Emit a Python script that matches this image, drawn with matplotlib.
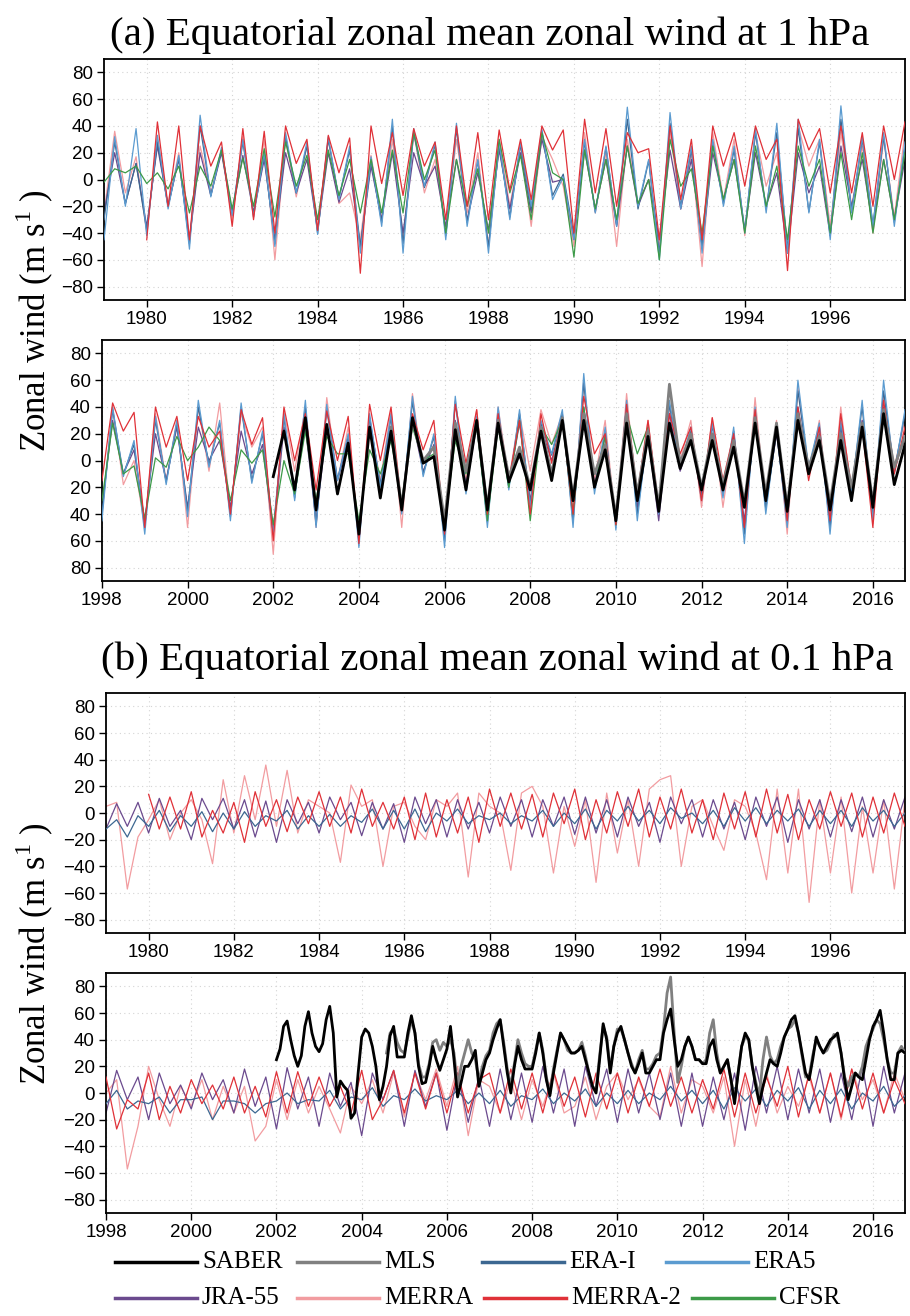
import matplotlib
matplotlib.use("Agg")
import matplotlib.pyplot as plt
import numpy as np
from matplotlib.lines import Line2D

# Quarterly samples (Jan, Apr, Jul, Oct), m/s.
# (a) 1 hPa, 1979-1997
A1_START = 1979.0
A1_ERA5 = [-45, 32, -20, 38, -42, 33, -22, 18, -52, 48, -13, 24, -27, 30, -28, 20,
           -50, 35, -10, 28, -41, 32, -15, 25, -55, 17, -35, 45, -55, 38, -5, 28,
           -45, 42, -35, 15, -55, 28, -30, 28, -20, 38, -15, 2, -45, 30, -25, 25,
           -35, 54, -20, 15, -60, 50, -22, 25, -55, 30, -20, 25, -40, 38, -25, 42,
           -55, 45, -25, 30, -45, 55, -25, 32, -35, 35, -35, 28]
A1_ERAI = [-30, 28, -18, 12, -38, 28, -20, 16, -48, 40, -12, 22, -25, 28, -25, 18,
           -48, 32, -10, 25, -40, 30, -14, 22, -50, 14, -32, 40, -48, 35, -6, 26,
           -42, 38, -32, 14, -50, 26, -28, 26, -22, 36, -12, 4, -42, 28, -24, 24,
           -34, 45, -22, 14, -55, 42, -20, 22, -50, 28, -18, 22, -38, 35, -22, 35,
           -52, 38, -24, 28, -42, 45, -24, 30, -34, 32, -32, 25]
A1_JRA55 = [-25, 20, -18, 12, -35, 25, -20, 15, -45, 20, -12, 20, -25, 18, -25, 15,
            -45, 20, -10, 15, -38, 20, -17, 8, -50, 10, -30, 20, -40, 20, -5, 10,
            -35, 15, -30, 5, -38, 22, -22, 20, -25, 30, -2, 0, -45, 22, -22, 15,
            -35, 25, -20, 0, -45, 22, -22, 15, -50, 20, -15, 15, -38, 20, -20, 5,
            -55, 20, -10, 10, -42, 25, -20, 15, -36, 15, -30, 15]
A1_MERRA = [-25, 36, -10, 17, -40, 30, -20, 20, -45, 25, -10, 22, -30, 32, -28, 30,
            -60, 30, -13, 25, -35, 30, -18, -10, -45, 18, -30, 30, -45, 35, -10, 15,
            -38, 30, -25, 20, -50, 30, -20, 25, -35, 32, 15, -5, -50, 35, -25, 20,
            -50, 30, -18, 0, -50, 35, -22, 20, -65, 35, -15, 30, -42, 35, -5, 20,
            -55, 40, 10, 30, -35, 35, -20, 25, -40, 30, -28, 35]
A1_MERRA2_START = 1980.0
A1_MERRA2 = [-45, 43, -20, 40, -45, 40, 10, 28, -35, 38, -30, 36, -40, 40, 12, 30,
             -38, 33, 5, 31, -70, 40, -3, 35, -12, 38, 10, 28, -30, 40, -20, 35,
             -30, 37, -8, 30, -15, 40, 22, 37, -40, 45, -10, 38, -20, 35, 20, 23,
             -45, 40, -15, 30, -45, 40, 10, 35, -5, 40, 15, 30, -68, 45, 22, 38,
             -10, 40, -10, 35, -20, 40, 0, 43]
A1_CFSR = [-2, 8, 5, 10, -3, 5, -7, 10, -25, 10, -5, 22, -22, 16, -20, 23,
           -28, 28, -5, 18, -30, 22, -12, 15, -25, 15, -25, 22, -25, 35, 0, 22,
           -40, 15, -20, 8, -40, 30, -10, 18, -30, 35, 5, 0, -58, 22, -22, 15,
           -30, 25, -18, 0, -60, 30, -5, 8, -40, 25, -15, 15, -40, 25, -20, 10,
           -45, 25, -5, 15, -40, 20, -30, 20, -40, 15, -30, 20]

# (a) 1 hPa, 1998-2016
A2_START = 1998.0
A2_ERA5 = [-45, 40, -12, 15, -55, 33, -18, 30, -42, 45, -5, 30, -45, 43, -17, 22,
           -55, 35, -30, 45, -50, 42, -15, 20, -65, 35, -20, 35, -40, 48, -12, 20,
           -65, 48, -25, 33, -50, 40, -22, 38, -35, 30, 5, 38, -50, 65, -25, 25,
           -52, 45, -45, 25, -40, 45, -5, 25, -30, 28, -28, 25, -62, 40, -40, 25,
           -50, 60, -5, 28, -55, 30, -25, 45, -45, 60, -10, 38]
A2_ERAI = [-40, 38, -10, 12, -50, 30, -16, 28, -38, 40, -3, 28, -42, 40, -15, 20,
           -52, 32, -28, 40, -48, 38, -14, 18, -60, 32, -18, 32, -38, 44, -10, 18,
           -60, 44, -22, 30, -46, 36, -20, 35, -32, 28, 4, 35, -46, 58, -22, 22,
           -48, 42, -40, 22, -38, 42, -6, 22, -28, 26, -25, 22, -55, 36, -36, 22,
           -46, 52, -6, 25, -50, 28, -22, 40, -40, 52, -8, 35]
A2_JRA55 = [-35, 30, -10, 8, -45, 20, -15, 25, -35, 25, 0, 15, -35, 22, -10, 12,
            -55, 25, -25, 25, -45, 25, -15, 15, -55, 25, -18, 25, -35, 30, -8, 12,
            -45, 30, -18, 25, -40, 28, -18, 28, -30, 25, 0, 30, -40, 40, -18, 18,
            -45, 35, -35, 18, -45, 35, -8, 18, -25, 20, -22, 18, -45, 30, -32, 20,
            -40, 40, -8, 20, -45, 25, -20, 30, -35, 40, -8, 20]
A2_MERRA = [-40, 40, -18, 0, -50, 35, -15, 30, -50, 40, -8, 43, -40, 35, 10, 25,
            -70, 37, -8, 40, -50, 47, -15, 25, -60, 30, -15, 38, -50, 50, -10, 18,
            -60, 45, -15, 38, -45, 40, -15, 35, -8, 38, 12, 35, -45, 60, -15, 30,
            -48, 50, -30, 30, -40, 40, 0, 30, -35, 32, -35, 22, -50, 47, -35, 30,
            -55, 55, -10, 30, -50, 40, -25, 30, -45, 50, -5, 30]
A2_MERRA2 = [-15, 43, 22, 36, -50, 40, 10, 33, -15, 33, 10, 22, -40, 38, 12, 32,
             -60, 40, 0, 35, -22, 37, 0, 33, -62, 42, 0, 40, -35, 35, 8, 30,
             -55, 42, -2, 38, -40, 35, -15, 30, -40, 35, -2, 32, -40, 48, 5, 20,
             -48, 42, -25, 30, -35, 35, 5, 25, -30, 32, -15, 20, -50, 38, -30, 28,
             -45, 40, -15, 25, -45, 35, -20, 25, -50, 45, -10, 25]
A2_CFSR = [-30, 28, -10, -4, -43, 2, -5, 18, 0, 10, 25, 15, -30, 8, -2, 8,
           -48, 0, -25, 22, -30, 18, 5, 5, -45, 8, -10, 15, -30, 25, 0, 5,
           -48, 15, -10, 25, -45, 25, -20, 30, -45, 25, 12, 30, -40, 40, -20, 18,
           -48, 35, 5, 25]
A2_SABER_START = 2002.0
A2_SABER = [-12, 22, -22, 32, -37, 27, -25, 13, -55, 25, -28, 22, -37, 32, -2, 3,
            -52, 23, -22, 30, -37, 28, -16, 5, -22, 22, -15, 30, -30, 30, -20, 8,
            -45, 28, -30, 18, -38, 28, -6, 15, -22, 15, -22, 10, -35, 28, -30, 25,
            -38, 30, -10, 15, -37, 15, -30, 25, -35, 35, -18, 12]
A2_MLS_START = 2004.75
A2_MLS = [25, -35, 30, 0, 10, -45, 28, -8, 30, -35, 30, -12, 10, -20, 25, -10, 32,
          -28, 35, -10, 12, -42, 35, -25, 22, -35, 57, -2, 20, -20, 20, -18, 15,
          -32, 32, -25, 28, -35, 35, -5, 18, -32, 20, -20, 28, -32, 38, -5, 18]

# (b) 0.1 hPa, 1979-1997
B1_START = 1979.0
B1_ERAI = [-12, -5, -18, -2, -10, 2, -14, -2, -10, 1, -14, 0, -12, 1, -10, -2,
           -6, 2, -12, -2, -10, -1, -10, -2, -7, 3, -12, 2, -12, 3, -14, 0,
           -6, 3, -8, -2, -5, 0, -8, -2, -6, 2, -10, 0, -8, 3, -12, 2,
           -6, 5, -6, 2, -8, 4, -4, 0, -8, 2, -10, 4, -6, 4, -8, 2,
           -6, 3, -10, 2, -8, 2, -10, 4, -6, 2, -10, 0]
B1_JRA55 = [-12, 7, -10, 8, -15, 11, -10, 2, -20, 11, -5, 11, -12, 10, -18, 9,
            -22, 10, -8, 8, -15, 12, -5, 8, -17, 8, -12, 7, -22, 12, -8, 10,
            -18, 10, -12, 8, -15, 12, -10, 10, -18, 10, -10, 12, -16, 12, -15, 10,
            -18, 12, -10, 8, -22, 12, -8, 10, -18, 10, -12, 8, -20, 12, -10, 12,
            -22, 10, -12, 10, -18, 10, -14, 12, -18, 10, -12, 12]
B1_MERRA = [5, 8, -57, -18, -5, 10, -20, 0, 10, -5, -38, 25, -15, 28, -5, 36,
            -10, 32, -15, 10, 5, 0, -37, 21, 5, 10, -40, 5, 8, -10, -20, 10,
            5, 15, -48, 15, 5, 0, -43, 15, 20, 5, -45, 5, -25, 10, -52, 15,
            -30, 10, -40, 18, 25, 28, -40, 5, 10, -10, -28, 10, 5, -15, -50, 18,
            -45, 18, -67, 10, -45, 12, -60, 5, -45, 10, -57, 10]
B1_MERRA2_START = 1980.0
B1_MERRA2 = [14, -12, 12, -12, 16, -18, 2, -15, 8, -22, 16, -10, 10, -14, 12, -8,
             16, -10, 12, -15, 18, -10, 8, -12, 12, -20, 15, -18, 10, -15, 12, -22,
             18, -10, 15, -12, 14, -18, 15, -8, 18, -20, 10, -15, 16, -10, 18, -18,
             12, -12, 18, -15, 10, -20, 15, -12, 16, -18, 18, -15, 14, -20, 10, -12,
             16, -10, 15, -18, 12, -15, 15, -10]

# (b) 0.1 hPa, 1998-2016
B2_START = 1998.0
B2_ERAI = [-8, 2, -12, -6, -8, -3, -15, -5, -5, -3, -20, -6, -6, -8, -15, -8,
           -6, 0, -8, -5, -6, 2, -12, -3, -5, 4, -10, -2, -5, 3, -6, -2,
           -5, 2, -8, 0, -8, 2, -10, -2, -5, 3, -8, 0, -6, 3, -10, 0,
           -8, 2, -8, 0, -5, 5, -6, 2, -8, 2, -12, 4, -6, 3, -10, 2,
           -6, 4, -12, 2, -8, 3, -12, 0, -6, 5, -10, -2]
B2_JRA55 = [-15, 17, -5, 12, -20, 15, -8, 6, -12, 15, -5, 10, -15, 18, -10, 12,
            -27, 19, -12, 12, -25, 15, -10, 8, -32, 15, -5, 17, -25, 17, -10, 15,
            -28, 15, -22, 12, -25, 18, -20, 15, -22, 20, -15, 18, -25, 20, -10, 18,
            -22, 18, -15, 15, -20, 15, -25, 15, -25, 12, -20, 15, -28, 20, -15, 20,
            -20, 18, -15, 18, -22, 15, -20, 20, -25, 20, -15, 15]
B2_MERRA = [0, 10, -57, -25, 20, -5, -25, 5, -10, 10, -20, 5, -15, 5, -36, -25,
            10, -20, 10, -15, 5, -12, -30, 5, -8, 10, -15, 15, -18, 15, -5, 18,
            -10, 20, -32, 10, 5, -15, 10, -20, 10, -10, 15, -15, -10, 12, -20, 5,
            15, -5, 10, -10, -18, 20, -15, 10, 5, -15, 12, -40, 10, -25, 15, -15,
            5, -10, 12, -15, 15, -20, 18, -5, 10, -15, 15, -5]
B2_MERRA2 = [12, -27, -5, -12, 15, -20, 5, -15, 10, -8, 6, -12, 12, -15, 5, -18,
             16, -15, 16, -10, 12, -10, 5, -15, 17, -20, -5, 17, -15, 15, -12, 15,
             -15, 15, -15, 10, 15, -15, 18, -12, 15, -15, 17, -10, 12, -18, 15, -12,
             15, -15, 12, -10, 18, -10, 12, -15, 10, -12, 18, -18, 15, -15, 12, -10,
             20, -18, 15, -15, 15, -18, 18, -12, 15, -15, 10, -8]
# monthly satellite series at 0.1 hPa
B2_SABER_START = 2002.0
B2_SABER = [25, 33, 50, 54, 40, 28, 20, 28, 50, 61, 45, 35,
            31, 37, 55, 65, 45, -3, 9, 5, 2, -19, -15, 15,
            42, 48, 45, 35, 20, -5, 5, 20, 43, 50, 27, 27,
            27, 45, 58, 45, 20, 7, 8, 20, 35, 25, 17, 25,
            33, 50, 25, -3, 8, 20, 20, 25, 32, 5, 15, 25,
            30, 40, 48, 55, 35, 15, 0, 20, 35, 25, 18, 18,
            18, 30, 45, 30, 10, -2, 15, 30, 45, 40, 35, 30,
            30, 32, 35, 25, 15, 5, 0, 25, 52, 40, 15, 35,
            45, 50, 40, 30, 20, 15, 22, 30, 15, 15, 20, 25,
            25, 45, 55, 63, 40, 20, 25, 35, 42, 35, 25, 25,
            22, 22, 35, 40, 25, 15, 20, 25, 10, -8, 15, 35,
            45, 40, 20, 5, -8, 5, 15, 25, 22, 20, 30, 42,
            48, 55, 58, 45, 30, 15, 10, 25, 42, 35, 30, 35,
            40, 42, 45, 30, 10, -5, 5, 15, 12, 10, 25, 40,
            50, 55, 62, 45, 25, 10, 10, 30, 32, 30]
B2_MLS_START = 2004.0 + 7 / 12
B2_MLS = [30, 45, 48, 38, 32,
          30, 42, 55, 45, 22, 12, 12, 22, 38, 40, 32, 38,
          35, 40, 30, 5, 20, 30, 40, 30, 25, 10, 20, 28,
          32, 45, 52, 55, 38, 18, 5, 22, 40, 30, 22, 20,
          20, 32, 45, 32, 12, 0, 18, 32, 45, 40, 32, 30,
          30, 32, 38, 28, 15, 5, 2, 28, 50, 42, 18, 35,
          48, 48, 40, 30, 22, 15, 25, 32, 18, 18, 22, 28,
          30, 48, 75, 87, 45, 8, 20, 35, 42, 35, 25, 25,
          22, 25, 45, 55, 30, 15, 20, 25, 10, -5, 15, 35,
          42, 40, 20, 8, -2, 25, 42, 28, 22, 25, 35, 42,
          48, 50, 55, 45, 28, 12, 12, 28, 40, 35, 30, 32,
          38, 44, 42, 30, 12, 5, 12, 15, 12, 20, 35, 42,
          48, 55, 52, 40, 25, 15, 15, 30, 35, 30]

COLORS = {"SABER": "black", "MLS": "#808080", "ERA-I": "#3c6791", "ERA5": "#5b9bd0",
          "JRA-55": "#6b4a8e", "MERRA": "#f29ca0", "MERRA-2": "#e03138", "CFSR": "#3c9a48"}
THICK = {"SABER": 2.0, "MLS": 2.0}
ORDER = {"MERRA": 1, "JRA-55": 2, "ERA-I": 3, "ERA5": 4, "CFSR": 5, "MERRA-2": 6, "MLS": 7, "SABER": 8}

plt.rcParams["font.family"] = ["Liberation Sans", "DejaVu Sans"]
plt.rcParams["mathtext.fontset"] = "custom"
plt.rcParams["mathtext.rm"] = "Liberation Serif"
SERIF = ["Liberation Serif", "DejaVu Serif"]

fig = plt.figure(figsize=(9.10, 13.16), dpi=100)


def draw_panel(rect, series, x0, plain_labels=False):
    ax = fig.add_axes(rect)
    for vals, start, step, key in series:
        t = start + step * np.arange(len(vals))
        ax.plot(t, vals, color=COLORS[key], lw=THICK.get(key, 0.9), zorder=ORDER[key])
    ax.set_xlim(x0, x0 + 18.75)
    ax.set_ylim(-90, 90)
    yt = np.arange(-80, 81, 20)
    ax.set_yticks(yt)
    if plain_labels:
        # this panel prints its negative ticks without the minus sign
        ax.set_yticklabels([str(abs(v)) for v in yt])
    ax.set_xticks(np.arange(x0 if x0 % 2 == 0 else x0 + 1, x0 + 19, 2))
    ax.grid(color="#d4d4d4", linestyle=(0, (1, 3)), linewidth=0.8)
    ax.set_axisbelow(True)
    ax.tick_params(labelsize=13.5, direction="out", length=5, width=1.0, pad=3)
    for s in ax.spines.values():
        s.set_linewidth(1.3)
    return ax


W = 0.9945
draw_panel([0.1143, 0.772, W - 0.1143, 0.1832],
           [(A1_MERRA, A1_START, 0.25, "MERRA"), (A1_JRA55, A1_START, 0.25, "JRA-55"),
            (A1_ERAI, A1_START, 0.25, "ERA-I"), (A1_ERA5, A1_START, 0.25, "ERA5"),
            (A1_CFSR, A1_START, 0.25, "CFSR"), (A1_MERRA2, A1_MERRA2_START, 0.25, "MERRA-2")],
           A1_START)
draw_panel([0.1120, 0.5585, W - 0.1120, 0.1831],
           [(A2_MERRA, A2_START, 0.25, "MERRA"), (A2_JRA55, A2_START, 0.25, "JRA-55"),
            (A2_ERAI, A2_START, 0.25, "ERA-I"), (A2_ERA5, A2_START, 0.25, "ERA5"),
            (A2_CFSR, A2_START, 0.25, "CFSR"), (A2_MERRA2, A2_START, 0.25, "MERRA-2"),
            (A2_MLS, A2_MLS_START, 0.25, "MLS"), (A2_SABER, A2_SABER_START, 0.25, "SABER")],
           A2_START, plain_labels=True)
draw_panel([0.1165, 0.291, W - 0.1165, 0.1824],
           [(B1_MERRA, B1_START, 0.25, "MERRA"), (B1_JRA55, B1_START, 0.25, "JRA-55"),
            (B1_ERAI, B1_START, 0.25, "ERA-I"), (B1_MERRA2, B1_MERRA2_START, 0.25, "MERRA-2")],
           B1_START)
draw_panel([0.1165, 0.0783, W - 0.1165, 0.1823],
           [(B2_MERRA, B2_START, 0.25, "MERRA"), (B2_JRA55, B2_START, 0.25, "JRA-55"),
            (B2_ERAI, B2_START, 0.25, "ERA-I"), (B2_MERRA2, B2_START, 0.25, "MERRA-2"),
            (B2_MLS, B2_MLS_START, 1 / 12, "MLS"), (B2_SABER, B2_SABER_START, 1 / 12, "SABER")],
           B2_START)

fig.text(0.5385, 0.9734, "(a) Equatorial zonal mean zonal wind at 1 hPa",
         family=SERIF, fontsize=29.5, ha="center", va="center")
fig.text(0.546, 0.4985, "(b) Equatorial zonal mean zonal wind at 0.1 hPa",
         family=SERIF, fontsize=29.5, ha="center", va="center")
for yc in (0.7568, 0.2758):
    fig.text(0.0385, yc, r"Zonal wind (m s$^{1}$ )", family=SERIF, fontsize=25,
             rotation=90, ha="center", va="center")

# legend, two rows drawn by hand
rows = [(["SABER", "MLS", "ERA-I", "ERA5"], [115, 297, 482, 666], 1262),
        (["JRA-55", "MERRA", "MERRA-2", "CFSR"], [115, 297, 484, 692], 1298)]
FW, FH = 910.0, 1316.0
for names, xs, y in rows:
    for name, x in zip(names, xs):
        yf = 1 - y / FH
        fig.add_artist(Line2D([x / FW, (x + 82) / FW], [yf, yf],
                              color=COLORS[name], lw=2.5, transform=fig.transFigure))
        fig.text((x + 87) / FW, yf, name, family=SERIF, fontsize=18,
                 ha="left", va="center")

fig.savefig("out.png", dpi=100)
